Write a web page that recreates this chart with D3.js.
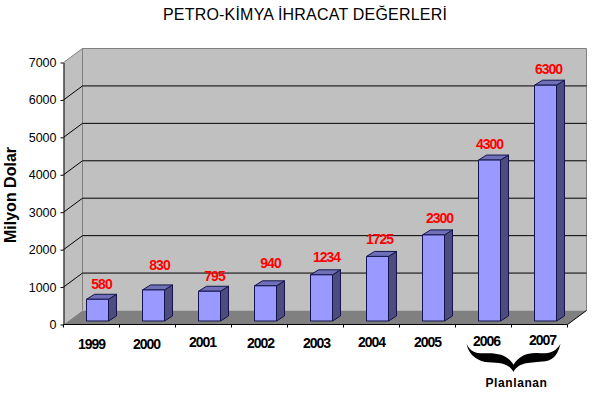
<!DOCTYPE html>
<html>
<head>
<meta charset="utf-8">
<script src="https://cdn.jsdelivr.net/npm/d3@7/dist/d3.min.js"></script>
<style>
    html, body { margin: 0; padding: 0; background: #fff; }
    svg { display: block; font-family: "Liberation Sans", Arial, sans-serif; }
</style>
</head>
<body>
<div id="chart"></div>
<script>
// ===== Data =====
const years = ['1999', '2000', '2001', '2002', '2003', '2004', '2005', '2006', '2007'];
const values = [580, 830, 795, 940, 1234, 1725, 2300, 4300, 6300];
const yTicks = [0, 1000, 2000, 3000, 4000, 5000, 6000, 7000];

// hand placed labels in the original, so nudges per year
const yearNudge = [[0, 0], [-1, 0], [-1, -2], [1, -1], [1, -1], [0, -2], [0, -2], [3, -3], [3, -4]];
const valueNudge = [[0, 0], [2, -10], [1, 0], [1, -8], [1, -3], [-2, -2], [2, -2], [-4, -1], [-1, -1]];

// ===== Layout =====
const width = 604, height = 395;
const wall = { dx: 19, dy: 14 };      // depth of the back wall
const bar = { dx: 8, dy: 5, w: 22, shiftX: 6, shiftY: 3.5 };

const x = d3.scaleBand().domain(years).range([63.5, 567.5]);
const y = d3.scaleLinear().domain([0, 7000]).range([324.5, 62.5]);

const svg = d3.select('#chart').append('svg')
    .attr('width', width)
    .attr('height', height);

// ===== Title =====
svg.append('text')
    .attr('x', 305).attr('y', 20)
    .attr('text-anchor', 'middle')
    .attr('font-size', 16)
    .attr('letter-spacing', 0.2)
    .attr('fill', '#000')
    .text('PETRO-KİMYA İHRACAT DEĞERLERİ');

svg.append('text')
    .attr('transform', 'translate(15.5,195) rotate(-90)')
    .attr('text-anchor', 'middle')
    .attr('font-size', 16)
    .attr('font-weight', 'bold')
    .attr('fill', '#000')
    .text('Milyon Dolar');

// ===== Walls and floor =====
const [x0, x1] = x.range();
const pts = a => a.map(p => p.join(',')).join(' ');

svg.append('polygon')
    .attr('points', pts([[x0, y(7000)], [x0 + wall.dx, y(7000) - wall.dy], [x1 + wall.dx, y(7000) - wall.dy],
        [x1 + wall.dx, y(0) - wall.dy], [x0 + wall.dx, y(0) - wall.dy], [x0, y(0)]]))
    .attr('fill', '#c0c0c0');

svg.append('polygon')
    .attr('points', pts([[x0, y(0)], [x0 + wall.dx, y(0) - wall.dy], [x1 + wall.dx, y(0) - wall.dy], [x1, y(0)]]))
    .attr('fill', '#808080');

// wall edges
svg.append('path')
    .attr('d', `M${x0},${y(7000)}L${x0 + wall.dx},${y(7000) - wall.dy}H${x1 + wall.dx}V${y(0) - wall.dy}`)
    .attr('fill', 'none').attr('stroke', '#808080');
svg.append('line')
    .attr('x1', x0 + wall.dx).attr('x2', x0 + wall.dx)
    .attr('y1', y(7000) - wall.dy).attr('y2', y(0) - wall.dy)
    .attr('stroke', '#808080');
svg.append('line')
    .attr('x1', x1).attr('x2', x1 + wall.dx)
    .attr('y1', y(0)).attr('y2', y(0) - wall.dy)
    .attr('stroke', '#000');

// ===== Gridlines =====
svg.append('g').selectAll('path')
    .data(yTicks.filter(d => d > 0 && d < 7000))
    .join('path')
    .attr('d', d => `M${x0},${y(d)}L${x0 + wall.dx},${y(d) - wall.dy}H${x1 + wall.dx}`)
    .attr('fill', 'none')
    .attr('stroke', '#000');

// ===== Axes =====
const yAxis = svg.append('g')
    .attr('transform', `translate(${x0},0)`)
    .call(d3.axisLeft(y).tickValues(yTicks).tickFormat(d3.format('d')).tickSize(3).tickPadding(4).tickSizeOuter(0));
yAxis.selectAll('text')
    .attr('font-size', 12.5)
    .attr('font-family', '"Liberation Sans", Arial, sans-serif')
    .attr('fill', '#000');

svg.append('line')
    .attr('x1', x0).attr('x2', x1)
    .attr('y1', y(0)).attr('y2', y(0))
    .attr('stroke', '#000');

svg.append('g').selectAll('line')
    .data(d3.range(years.length + 1))
    .join('line')
    .attr('x1', i => x0 + i * x.step()).attr('x2', i => x0 + i * x.step())
    .attr('y1', y(0)).attr('y2', y(0) + 3)
    .attr('stroke', '#000');

svg.append('g').selectAll('text')
    .data(years)
    .join('text')
    .attr('x', (d, i) => x(d) + x.bandwidth() / 2 + yearNudge[i][0])
    .attr('y', (d, i) => 349 + yearNudge[i][1])
    .attr('text-anchor', 'middle')
    .attr('font-size', 14)
    .attr('font-weight', 'bold')
    .attr('letter-spacing', -1)
    .attr('fill', '#000')
    .text(d => d);

// ===== Bars =====
const barX = d => x(d) + (x.bandwidth() - bar.w) / 2 + bar.shiftX;
const barBase = y(0) - bar.shiftY;
const barTop = v => barBase - (y(0) - y(v));

const bars = svg.append('g').selectAll('g')
    .data(years.map((year, i) => ({ year, value: values[i], i })))
    .join('g')
    .attr('stroke', '#14144a')
    .attr('stroke-width', 1)
    .attr('stroke-linejoin', 'round');

bars.append('polygon')
    .attr('fill', '#4c4c80')
    .attr('points', d => {
        const l = barX(d.year) + bar.w, t = barTop(d.value);
        return pts([[l, t], [l + bar.dx, t - bar.dy], [l + bar.dx, barBase - bar.dy], [l, barBase]]);
    });

bars.append('polygon')
    .attr('fill', '#7070b8')
    .attr('points', d => {
        const l = barX(d.year), t = barTop(d.value);
        return pts([[l, t], [l + bar.dx, t - bar.dy], [l + bar.w + bar.dx, t - bar.dy], [l + bar.w, t]]);
    });

bars.append('rect')
    .attr('fill', '#9999ff')
    .attr('x', d => barX(d.year))
    .attr('y', d => barTop(d.value))
    .attr('width', bar.w)
    .attr('height', d => barBase - barTop(d.value));

// ===== Value labels =====
svg.append('g').selectAll('text')
    .data(years.map((year, i) => ({ year, value: values[i], i })))
    .join('text')
    .attr('x', d => barX(d.year) + (bar.w + bar.dx) / 2 + valueNudge[d.i][0])
    .attr('y', d => barTop(d.value) - bar.dy - 5 + valueNudge[d.i][1])
    .attr('text-anchor', 'middle')
    .attr('font-size', 14)
    .attr('font-weight', 'bold')
    .attr('letter-spacing', -1)
    .attr('fill', '#ff0000')
    .text(d => d.value);

// ===== "Planlanan" brace =====
const braceX = x('2007');
svg.append('path')
    .attr('transform', `translate(${braceX + 2},372) scale(0.3333)`)
    .attr('d', 'M-141,-85C-135,-55 -115,-38 -85,-30C-50,-26 -18,-32 0,0C18,-32 50,-26 95,-32C125,-38 135,-60 141,-85'
        + 'C128,-62 110,-55 80,-56C45,-60 18,-50 0,-22C-18,-50 -45,-58 -85,-56C-115,-55 -130,-62 -141,-85Z')
    .attr('fill', '#000');

svg.append('text')
    .attr('x', braceX + 5).attr('y', 387)
    .attr('text-anchor', 'middle')
    .attr('font-size', 12)
    .attr('font-weight', 'bold')
    .attr('letter-spacing', 0.6)
    .attr('fill', '#000')
    .text('Planlanan');
</script>
</body>
</html>
